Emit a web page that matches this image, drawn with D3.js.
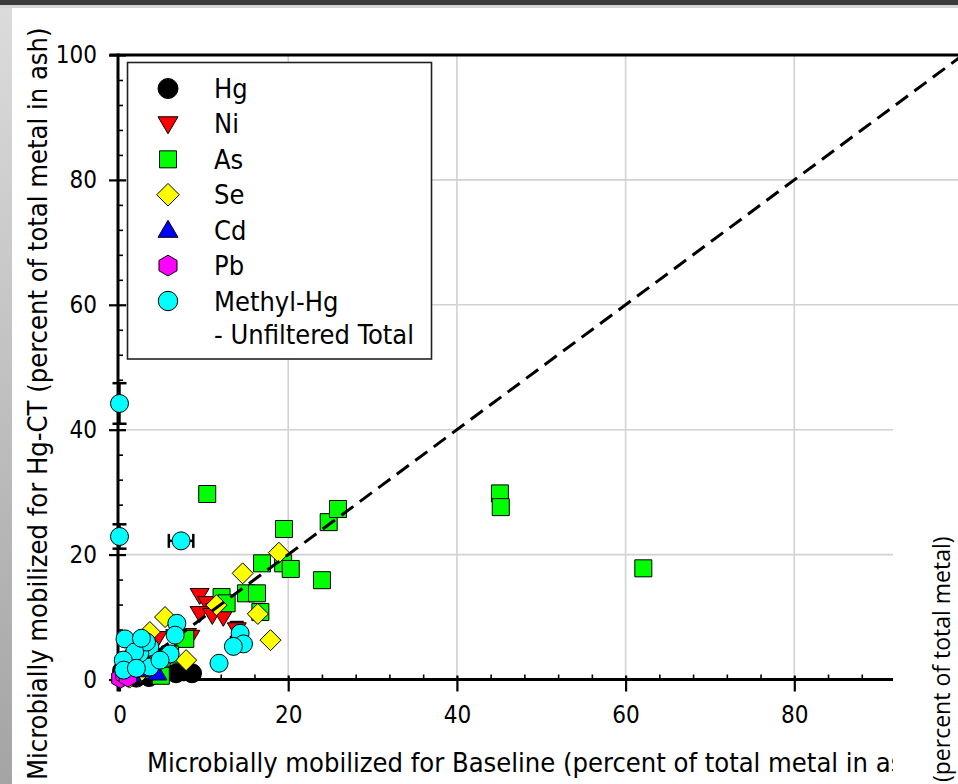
<!DOCTYPE html>
<html><head><meta charset="utf-8">
<script src="https://cdn.jsdelivr.net/npm/d3@7"></script>
<style>
html,body{margin:0;padding:0;background:#fff;}
svg{display:block;}
</style></head><body>
<svg id="chart" width="958" height="784"></svg>
<script>
// Microbially mobilized metal, % of total metal in ash: Baseline (x) vs Hg-CT (y)
const hgX = [0.3, 1.2, 2.0, 3.5, 6.7, 8.6, 7.6];
const hgY = [1.4, 0.5, 0.3, 0.4, 1.0, 1.0, 1.3];

const niX = [9.5, 10.4, 11.3, 9.5, 11.0, 12.3, 13.9, 8.0, 8.4, 6.6, 4.5, 2.5, 1.2, 3.5];
const niY = [13.5, 12.2, 11.1, 10.6, 10.3, 10.0, 8.0, 7.1, 6.8, 6.9, 6.6, 5.0, 3.0, 2.0];
const niYErr = [0, 0, 0, 0, 0, 0, 1.2, 0, 0, 0, 0, 0, 0, 0];

const asX = [10.4, 19.5, 24.8, 25.9, 45.1, 45.2, 62.1, 24.0, 16.9, 19.4, 20.3, 15.0, 16.3, 12.1, 12.7, 16.7, 7.8, 4.9, 2.5, 1.0, 6.0, 5.0];
const asY = [29.7, 24.1, 25.2, 27.3, 29.8, 27.6, 17.8, 15.9, 18.6, 18.6, 17.7, 13.8, 13.8, 13.2, 12.2, 10.8, 6.5, 0.6, 1.5, 0.8, 4.0, 3.5];

const seX = [18.9, 14.6, 16.4, 17.9, 11.5, 5.4, 3.6, 7.9, 1.2, 2.5, 4.0];
const seY = [20.3, 17.0, 10.5, 6.3, 11.9, 10.0, 7.6, 3.1, 0.3, 1.2, 2.5];

const cdX = [1.5, 3.0, 0.5, 4.5];
const cdY = [0.8, 1.5, 0.3, 1.0];

const pbX = [0.1, 0.6, 1.0];
const pbY = [0.2, 0.8, 0.4];

const mhgX = [0, 0, 7.3, 11.8, 14.3, 14.7, 13.5, 0.65, 6.8, 6.6, 6.0, 3.6, 3.6, 2.4, 1.4, 1.0, 3.2, 1.8, 4.8, 2.6, 0.45, 0.5, 2.0];
const mhgY = [44.2, 22.9, 22.2, 2.6, 7.4, 5.7, 5.3, 6.5, 9.0, 7.1, 4.1, 2.0, 5.2, 4.2, 3.6, 2.3, 6.0, 4.4, 3.1, 6.6, 3.1, 1.5, 1.8];
const mhgXErr = [0, 0, 1.45, 0, 0, 0, 0, 0, 0, 0, 0, 0, 0, 0, 0, 0, 0, 0, 0, 0, 0, 0, 0];
const mhgYErr = [3.25, 1.95, 0, 0, 0, 0, 0, 0, 0, 0, 0, 0, 0, 0, 0, 0, 0, 0, 0, 0, 0, 0, 0];

const majorTicks = [0, 20, 40, 60, 80, 100];
const minorStep = 4;

const legendNames = ["Hg", "Ni", "As", "Se", "Cd", "Pb", "Methyl-Hg"];
const legendExtra = "- Unfiltered Total";
const xTitle = "Microbially mobilized for Baseline (percent of total metal in ash)";
const yTitle = "Microbially mobilized for Hg-CT (percent of total metal in ash)";
const sideTitle = "(percent of total metal)";

const FONT = "'DejaVu Sans Condensed','DejaVu Sans',sans-serif";

const svg = d3.select("#chart");
const W = 958, H = 784;

// slide frame
const defs = svg.append("defs");
const lg = defs.append("linearGradient").attr("id", "edge").attr("x1", 0).attr("y1", 0).attr("x2", 0).attr("y2", 1);
lg.append("stop").attr("offset", "0%").attr("stop-color", "#dcdcdc");
lg.append("stop").attr("offset", "100%").attr("stop-color", "#a4a4a4");
svg.append("rect").attr("width", W).attr("height", H).attr("fill", "#fff");

const x = d3.scaleLinear().domain([0, 100]).range([119.5, 963]);
const y = d3.scaleLinear().domain([0, 100]).range([679.5, 55]);

const plotRight = 958;
const g = svg.append("g");

// grid
g.append("g").selectAll("line").data(majorTicks.filter(v => v > 0 && v < 100)).join("line")
  .attr("x1", d => x(d)).attr("x2", d => x(d)).attr("y1", y(100)).attr("y2", y(0))
  .attr("stroke", "#d2d2d2").attr("stroke-width", 1.6);
g.append("g").selectAll("line").data(majorTicks.filter(v => v > 0 && v < 100)).join("line")
  .attr("y1", d => y(d)).attr("y2", d => y(d)).attr("x1", x(0)).attr("x2", plotRight)
  .attr("stroke", "#d2d2d2").attr("stroke-width", 1.6);

// axes
const minorVals = d3.range(0, 101, minorStep).filter(v => v % 20 !== 0);
const xAxis = d3.axisBottom(x).tickValues(majorTicks.slice(0, 5)).tickSizeInner(12).tickSizeOuter(0).tickPadding(14)
  .tickFormat(d3.format("d"));
const xa = g.append("g").attr("transform", `translate(0,${y(0)})`).call(xAxis);
xa.select(".domain").remove();
xa.selectAll(".tick line").attr("y1", -4).attr("stroke", "#000").attr("stroke-width", 2.2);
xa.selectAll(".tick text").attr("font-family", FONT).attr("font-size", 24).attr("fill", "#000").attr("dy", "0.71em");
const xMinor = g.append("g").attr("transform", `translate(0,${y(0)})`)
  .call(d3.axisTop(x).tickValues(minorVals.filter(v => v < 92)).tickSize(5).tickFormat(""));
xMinor.select(".domain").remove();
xMinor.selectAll("line").attr("stroke", "#000").attr("stroke-width", 1.6);

const yAxis = d3.axisLeft(y).tickValues(majorTicks).tickSizeInner(9).tickSizeOuter(0).tickPadding(12)
  .tickFormat(d3.format("d"));
const ya = g.append("g").attr("transform", `translate(${x(0) - 1.5},0)`).call(yAxis);
ya.select(".domain").remove();
ya.selectAll(".tick line").attr("x1", 8).attr("stroke", "#000").attr("stroke-width", 2.2);
ya.selectAll(".tick text").attr("font-family", FONT).attr("font-size", 24).attr("fill", "#000");
const yMinor = g.append("g").attr("transform", `translate(${x(0) - 1.5},0)`)
  .call(d3.axisRight(y).tickValues(minorVals).tickSize(5).tickFormat(""));
yMinor.select(".domain").remove();
yMinor.selectAll("line").attr("stroke", "#000").attr("stroke-width", 1.6);

// axis frame lines
g.append("line").attr("x1", x(0) - 3).attr("x2", plotRight).attr("y1", y(0)).attr("y2", y(0)).attr("stroke", "#000").attr("stroke-width", 3);
g.append("line").attr("x1", x(0) - 10).attr("x2", plotRight).attr("y1", y(100)).attr("y2", y(100)).attr("stroke", "#000").attr("stroke-width", 3);
g.append("line").attr("x1", x(0) - 1.5).attr("x2", x(0) - 1.5).attr("y1", y(100) - 1.5).attr("y2", y(0) + 12).attr("stroke", "#000").attr("stroke-width", 3);

// marker shapes
const sym = {
  circle: r => `M${r},0A${r},${r} 0 1,1 ${-r},0A${r},${r} 0 1,1 ${r},0Z`,
  triDown: (w, h) => `M${-w / 2},${-h * 0.42}L${w / 2},${-h * 0.42}L0,${h * 0.58}Z`,
  triUp: (w, h) => `M${-w / 2},${h * 0.42}L${w / 2},${h * 0.42}L0,${-h * 0.58}Z`,
  square: s => `M${-s / 2},${-s / 2}h${s}v${s}h${-s}Z`,
  diamond: r => `M0,${-r}L${r},0L0,${r}L${-r},0Z`,
  hexagon: r => d3.range(6).map(k => {
    const a = -Math.PI / 2 + k * Math.PI / 3;
    return (k ? "L" : "M") + (r * Math.cos(a)).toFixed(2) + "," + (r * Math.sin(a)).toFixed(2);
  }).join("") + "Z"
};

const series = [
  { xs: hgX, ys: hgY, fill: "#000000", path: sym.circle(9.5) },
  { xs: niX, ys: niY, fill: "#ff0000", path: sym.triDown(19, 16), yErr: niYErr },
  { xs: asX, ys: asY, fill: "#00ff00", path: sym.square(17) },
  { xs: seX, ys: seY, fill: "#ffff00", path: sym.diamond(10.5) },
  { xs: cdX, ys: cdY, fill: "#0000ff", path: sym.triUp(19, 16) },
];
const pbSeries = { xs: pbX, ys: pbY, fill: "#ff00ff", path: sym.hexagon(10) };
const mhgSeries = { xs: mhgX, ys: mhgY, fill: "#00ffff", path: sym.circle(9), xErr: mhgXErr, yErr: mhgYErr };

function drawSeries(s) {
  const pts = s.xs.map((v, i) => ({ x: v, y: s.ys[i], xe: s.xErr ? s.xErr[i] : 0, ye: s.yErr ? s.yErr[i] : 0 }));
  const eg = g.append("g").attr("stroke", "#000").attr("stroke-width", 2.5);
  pts.filter(p => p.ye > 0).forEach(p => {
    eg.append("line").attr("x1", x(p.x)).attr("x2", x(p.x)).attr("y1", y(p.y - p.ye)).attr("y2", y(p.y + p.ye));
    [p.y - p.ye, p.y + p.ye].forEach(v => eg.append("line").attr("x1", x(p.x) - 7).attr("x2", x(p.x) + 7).attr("y1", y(v)).attr("y2", y(v)));
  });
  pts.filter(p => p.xe > 0).forEach(p => {
    eg.append("line").attr("y1", y(p.y)).attr("y2", y(p.y)).attr("x1", x(p.x - p.xe)).attr("x2", x(p.x + p.xe));
    [p.x - p.xe, p.x + p.xe].forEach(v => eg.append("line").attr("y1", y(p.y) - 7).attr("y2", y(p.y) + 7).attr("x1", x(v)).attr("x2", x(v)));
  });
  g.append("g").selectAll("path").data(pts).join("path")
    .attr("transform", d => `translate(${x(d.x)},${y(d.y)})`)
    .attr("d", s.path).attr("fill", s.fill).attr("stroke", "#000").attr("stroke-width", 1);
}
series.forEach(drawSeries);

// 1:1 line
g.append("line").attr("x1", x(0)).attr("y1", y(0)).attr("x2", x(100)).attr("y2", y(100))
  .attr("stroke", "#000").attr("stroke-width", 3).attr("stroke-dasharray", "15,8");

drawSeries(pbSeries);
drawSeries(mhgSeries);

// legend
const leg = svg.append("g");
leg.append("rect").attr("x", 127.5).attr("y", 62.5).attr("width", 304).attr("height", 296.5)
  .attr("fill", "#fff").attr("stroke", "#222").attr("stroke-width", 1.6);
const legPaths = [sym.circle(10), sym.triDown(20, 17), sym.square(17), sym.diamond(11.3), sym.triUp(20, 17), sym.hexagon(10.4), sym.circle(9.7)];
const legFills = ["#000000", "#ff0000", "#00ff00", "#ffff00", "#0000ff", "#ff00ff", "#00ffff"];
const legRow = d3.scaleLinear().domain([0, 6]).range([88.5, 301]);
legendNames.forEach((name, i) => {
  leg.append("path").attr("transform", `translate(168,${legRow(i)})`).attr("d", legPaths[i])
    .attr("fill", legFills[i]).attr("stroke", "#000").attr("stroke-width", 1);
  leg.append("text").attr("x", 214).attr("y", legRow(i) + 9.5).text(name)
    .attr("font-family", FONT).attr("font-size", 27).attr("fill", "#000");
});
leg.append("text").attr("x", 214).attr("y", legRow(6) + 42.5).text(legendExtra)
  .attr("font-family", FONT).attr("font-size", 27).attr("fill", "#000");

// overlapping neighbour panel on the right
svg.append("rect").attr("x", 893).attr("y", 318).attr("width", W - 893).attr("height", H - 318).attr("fill", "#fff");
svg.append("text").attr("transform", "translate(950,782) rotate(-90)").text(sideTitle)
  .attr("font-family", "'Open Sans',sans-serif").attr("font-size", 23).attr("fill", "#000");

// titles
const yt = svg.append("text").attr("transform", "translate(47,780) rotate(-90)").text(yTitle)
  .attr("font-family", FONT).attr("font-size", 24).attr("fill", "#000");
const fs = 24 * 753 / yt.node().getComputedTextLength();
yt.attr("font-size", fs);
svg.append("clipPath").attr("id", "xclip").append("rect").attr("x", 0).attr("y", 690).attr("width", 893).attr("height", 94);
svg.append("text").attr("x", 147).attr("y", 772).text(xTitle).attr("clip-path", "url(#xclip)")
  .attr("font-family", FONT).attr("font-size", fs).attr("fill", "#000");

// slide edges
svg.append("rect").attr("x", 0).attr("y", 0).attr("width", 12).attr("height", H).attr("fill", "url(#edge)");
svg.append("rect").attr("x", 0).attr("y", 5).attr("width", W).attr("height", 3).attr("fill", "#d6d6d6");
svg.append("rect").attr("x", 0).attr("y", 0).attr("width", W).attr("height", 5).attr("fill", "#3c3c3c");
</script>
</body></html>
